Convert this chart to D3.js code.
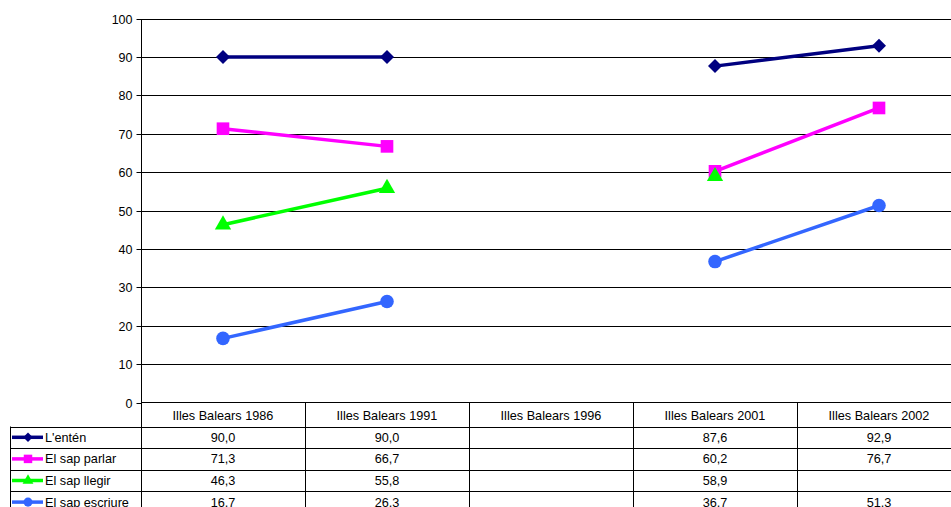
<!DOCTYPE html>
<html>
<head>
<meta charset="utf-8">
<script src="https://cdn.jsdelivr.net/npm/d3@7"></script>
<style>
  html, body { margin: 0; padding: 0; background: #fff; }
  svg { display: block; font-family: "Liberation Sans", Arial, sans-serif; }
</style>
</head>
<body>
<svg id="chart" width="951" height="507"></svg>
<script>
// Categories (census / survey years)
const categories = ["Illes Balears 1986", "Illes Balears 1991", "Illes Balears 1996", "Illes Balears 2001", "Illes Balears 2002"];

// Series values (percent); null = no data
const entén       = [90.0, 90.0, null, 87.6, 92.9];
const sapParlar   = [71.3, 66.7, null, 60.2, 76.7];
const sapLlegir   = [46.3, 55.8, null, 58.9, null];
const sapEscriure = [16.7, 26.3, null, 36.7, 51.3];

const seriesNames = ["L'entén", "El sap parlar", "El sap llegir", "El sap escriure"];
const yTicks = [0, 10, 20, 30, 40, 50, 60, 70, 80, 90, 100];

const series = [
  { name: seriesNames[0], values: entén,       color: "#000080", symbol: d3.symbolDiamond2, size: 125 },
  { name: seriesNames[1], values: sapParlar,   color: "#FF00FF", symbol: d3.symbolSquare,   size: 160 },
  { name: seriesNames[2], values: sapLlegir,   color: "#00FF00", symbol: d3.symbolTriangle, size: 115 },
  { name: seriesNames[3], values: sapEscriure, color: "#3366FF", symbol: d3.symbolCircle,   size: 145 }
];

const svg = d3.select("#chart");
const left = 141, colW = 164;
const right = left + colW * categories.length;

const x = d3.scaleBand().domain(categories).range([left, right]);
const y = d3.scaleLinear().domain([0, 100]).range([402.5, 18.5]);

// Horizontal gridlines
svg.append("g")
  .selectAll("line")
  .data(yTicks.filter(t => t > 0))
  .join("line")
  .attr("x1", left).attr("x2", right)
  .attr("y1", d => Math.round(y(d)) + 0.5).attr("y2", d => Math.round(y(d)) + 0.5)
  .attr("stroke", "#000").attr("stroke-width", 1);

// Y axis
const yAxis = d3.axisLeft(y).tickValues(yTicks).tickSize(5).tickPadding(4).tickFormat(d3.format("d"));
const yg = svg.append("g").attr("transform", `translate(${left + 0.5},0.5)`).call(yAxis);
yg.select(".domain").attr("stroke", "#000").attr("d", `M0,${y(100)}V${y(0)}`);
yg.selectAll(".tick line").attr("stroke", "#000");
yg.selectAll(".tick").attr("transform", d => `translate(0,${Math.round(y(d))})`);
yg.selectAll("text").attr("font-size", 12.5).attr("fill", "#000")
  .attr("font-family", "Liberation Sans, Arial, sans-serif");

// Lines and markers
const line = d3.line()
  .defined(d => d.v !== null)
  .x(d => x(d.c) + x.bandwidth() / 2)
  .y(d => y(d.v));

series.forEach(s => {
  const pts = categories.map((c, i) => ({ c, v: s.values[i] }));
  svg.append("path")
    .datum(pts)
    .attr("d", line)
    .attr("fill", "none")
    .attr("stroke", s.color)
    .attr("stroke-width", 3.5);
});
series.forEach(s => {
  const pts = categories.map((c, i) => ({ c, v: s.values[i] })).filter(d => d.v !== null);
  svg.append("g").selectAll("path")
    .data(pts)
    .join("path")
    .attr("transform", d => `translate(${x(d.c) + x.bandwidth() / 2},${y(d.v)})`)
    .attr("d", d3.symbol().type(s.symbol).size(s.size))
    .attr("fill", s.color);
});

// Data table below the plot
const headerTop = 402.5, headerH = 24, rowH = 21.6;
const tbl = svg.append("g").attr("font-size", 12.7).attr("fill", "#000");

// Vertical lines of the category columns
categories.forEach((c, i) => {
  tbl.append("line")
    .attr("x1", Math.round(x(c)) + 0.5).attr("x2", Math.round(x(c)) + 0.5)
    .attr("y1", headerTop).attr("y2", 507)
    .attr("stroke", "#000");
});
// Left edge of the legend column
tbl.append("line")
  .attr("x1", 10.5).attr("x2", 10.5)
  .attr("y1", headerTop + headerH).attr("y2", 507)
  .attr("stroke", "#000");
// Horizontal row lines
tbl.append("line")
  .attr("x1", left).attr("x2", right)
  .attr("y1", headerTop).attr("y2", headerTop)
  .attr("stroke", "#000");
series.forEach((s, i) => {
  const yy = Math.round(headerTop + headerH + i * rowH) + 0.5;
  tbl.append("line")
    .attr("x1", 10).attr("x2", right)
    .attr("y1", yy).attr("y2", yy)
    .attr("stroke", "#000");
});

// Header labels
tbl.selectAll("text.hdr")
  .data(categories)
  .join("text")
  .attr("class", "hdr")
  .attr("x", d => x(d) + x.bandwidth() / 2)
  .attr("y", headerTop + headerH / 2 + 5)
  .attr("text-anchor", "middle")
  .text(d => d);

const fmt = v => v === null ? "" : d3.format(".1f")(v).replace(".", ",");

series.forEach((s, i) => {
  const top = headerTop + headerH + i * rowH;
  const cy = top + rowH / 2;
  // legend key
  tbl.append("line")
    .attr("x1", 12).attr("x2", 43)
    .attr("y1", cy).attr("y2", cy)
    .attr("stroke", s.color).attr("stroke-width", 3.5);
  tbl.append("path")
    .attr("transform", `translate(28,${cy})`)
    .attr("d", d3.symbol().type(s.symbol).size(s.size * 0.45))
    .attr("fill", s.color);
  tbl.append("text")
    .attr("x", 45).attr("y", cy + 4.5)
    .text(s.name);
  // values
  categories.forEach((c, j) => {
    tbl.append("text")
      .attr("x", x(c) + x.bandwidth() / 2)
      .attr("y", cy + 4.5)
      .attr("text-anchor", "middle")
      .text(fmt(s.values[j]));
  });
});
</script>
</body>
</html>
